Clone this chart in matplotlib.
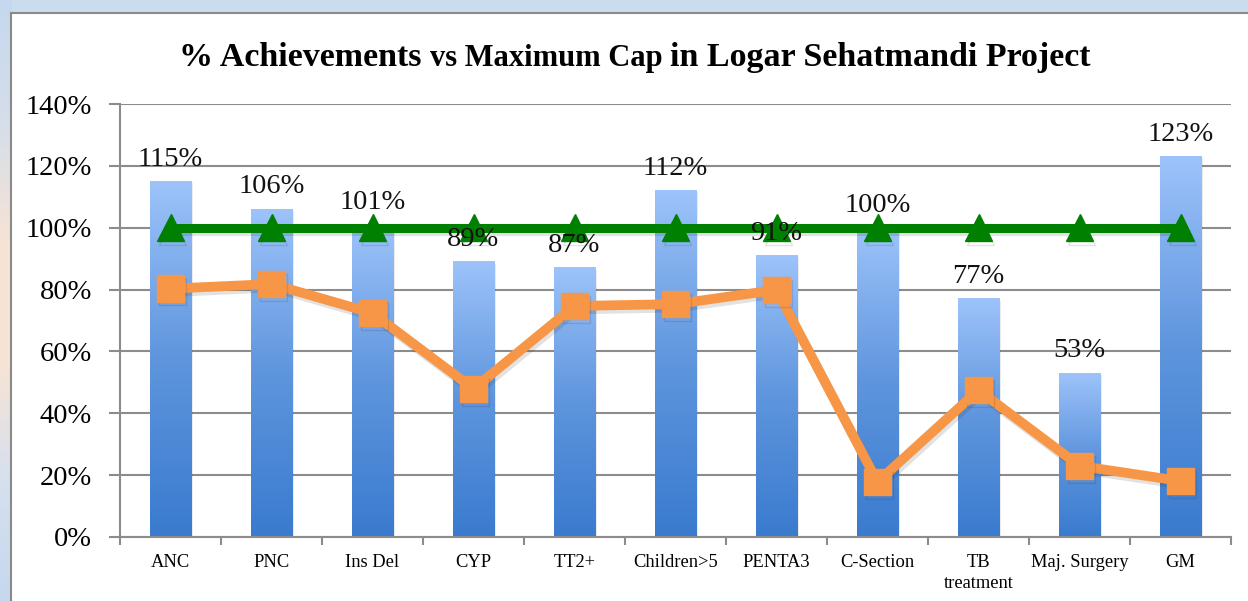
import numpy as np
import matplotlib
matplotlib.use("Agg")
import matplotlib.pyplot as plt
from matplotlib.colors import LinearSegmentedColormap
from matplotlib.patches import Rectangle
import matplotlib.patheffects as pe

categories = ["ANC", "PNC", "Ins Del", "CYP", "TT2+", "Children>5", "PENTA3",
              "C-Section", "TB\ntreatment", "Maj. Surgery", "GM"]
achievement = [115, 106, 101, 89, 87, 112, 91, 100, 77, 53, 123]
achievement_labels = ["115%", "106%", "101%", "89%", "87%", "112%", "91%",
                      "100%", "77%", "53%", "123%"]
orange_series = [80.3, 81.8, 72.4, 47.9, 74.7, 75.3, 79.9, 17.8, 47.5, 23.0, 18.1]
max_cap = [100] * 11
yticks = [0, 20, 40, 60, 80, 100, 120, 140]
ytick_labels = ["0%", "20%", "40%", "60%", "80%", "100%", "120%", "140%"]

serif = ["Liberation Serif", "DejaVu Serif"]
plt.rcParams["font.family"] = serif

W, H = 1248, 601
fig = plt.figure(figsize=(W / 100, H / 100), dpi=100)
fig.patch.set_facecolor("#CCDCEF")

# left strip gradient (blue -> peach -> blue)
strip = fig.add_axes([0, 0, 12 / W, 1], zorder=-2)
strip.axis("off")
grad_cmap = LinearSegmentedColormap.from_list(
    "strip", ["#C6D8EE", "#D5DEEA", "#F6E3D6", "#F8E4D4", "#D6E0EE", "#C6D8EE"])
strip.imshow(np.linspace(0, 1, 200).reshape(-1, 1), aspect="auto", cmap=grad_cmap,
             extent=[0, 1, 0, 1])

# white chart area
fig.patches.append(Rectangle((11 / W, -0.1), 1.1, (601 - 13) / H + 0.1,
                             transform=fig.transFigure, facecolor="white",
                             edgecolor="#8A8A8A", linewidth=1.5, zorder=-1))

ax = fig.add_axes([120 / W, 1 - 537 / H, (1231 - 120) / W, (537 - 104) / H], zorder=1)
ax.set_facecolor("none")
x = np.arange(len(categories))
bw = 0.41

bar_cmap = LinearSegmentedColormap.from_list("bar", ["#3A7BCF", "#5E95DD", "#9DC3FA"])
grad = np.linspace(0, 1, 256).reshape(-1, 1)
for xi, v in zip(x, achievement):
    ax.add_patch(Rectangle((xi - bw / 2 + 0.015, 0), bw, v - 0.6,
                           facecolor="#000000", alpha=0.08, edgecolor="none", zorder=1.5))
    ax.imshow(grad, aspect="auto", cmap=bar_cmap, origin="lower",
              extent=[xi - bw / 2, xi + bw / 2, 0, v], zorder=2, interpolation="bilinear")

shadow = [pe.SimpleLineShadow(offset=(1.5, -2.5), alpha=0.13, shadow_color="#222222"),
          pe.Normal()]
ax.plot(x, max_cap, color="#008000", linewidth=6.5, marker="^", markersize=19.5,
        zorder=4, path_effects=shadow, solid_capstyle="butt")
ax.plot(x, orange_series, color="#F79646", linewidth=7, marker="s", markersize=19,
        zorder=5, path_effects=shadow, solid_joinstyle="miter")

for xi, v, lab in zip(x, achievement, achievement_labels):
    ax.annotate(lab, (xi, v), xytext=(0, 7), textcoords="offset points",
                ha="center", va="bottom", fontsize=20.5, color="#111111", zorder=6)

ax.set_xlim(-0.5, len(categories) - 0.5)
ax.set_ylim(0, 140)
ax.set_yticks(yticks)
ax.set_yticklabels(ytick_labels, fontsize=20.5)
ax.yaxis.grid(True, color="#8C8C8C", linewidth=1.5)
ax.set_axisbelow(True)
ax.set_xticks(np.arange(len(categories) + 1) - 0.5)
ax.set_xticklabels([])
ax.set_xticks(x, minor=True)
ax.set_xticklabels(categories, minor=True, fontsize=13.3, linespacing=1.3)
ax.tick_params(axis="x", which="minor", length=0, pad=12)
ax.tick_params(axis="x", which="major", length=6, width=1.5, color="#8C8C8C")
ax.tick_params(axis="y", length=8, width=1.5, color="#8C8C8C", pad=12)
for s in ["top", "right"]:
    ax.spines[s].set_visible(False)
for s in ["left", "bottom"]:
    ax.spines[s].set_color("#8C8C8C")
    ax.spines[s].set_linewidth(1.5)

# title with mixed sizes
parts = [("% Achievements ", 24.5), ("vs Maximum Cap ", 22), ("in Logar Sehatmandi Project", 24.5)]
fig.canvas.draw()
renderer = fig.canvas.get_renderer()
texts = []
widths = []
for s, fs in parts:
    t = fig.text(0, 0, s, fontsize=fs, fontweight="bold", color="#000000",
                 ha="left", va="baseline")
    bb = t.get_window_extent(renderer)
    widths.append(bb.width)
    texts.append(t)
total = sum(widths)
xstart = (635 - total / 2)
ybase = 1 - 66 / H
cur = xstart
for t, w in zip(texts, widths):
    t.set_position((cur / W, ybase))
    cur += w

fig.savefig("out.png", dpi=100, facecolor=fig.get_facecolor())
